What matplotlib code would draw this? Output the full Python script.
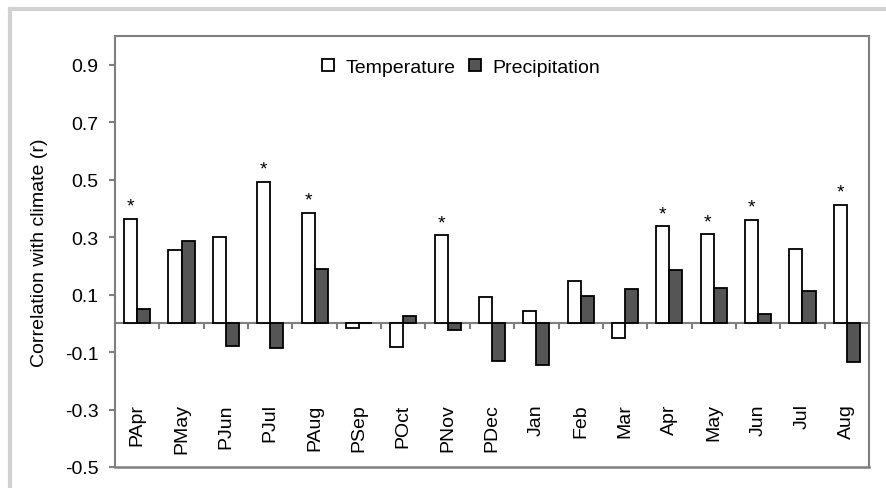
import numpy as np
import matplotlib
matplotlib.use("Agg")
import matplotlib.pyplot as plt
from matplotlib.lines import Line2D

plt.rcParams['font.family'] = ['Liberation Sans', 'DejaVu Sans']

# data
months = ["PApr", "PMay", "PJun", "PJul", "PAug", "PSep", "POct", "PNov", "PDec",
          "Jan", "Feb", "Mar", "Apr", "May", "Jun", "Jul", "Aug"]
temperature = [0.364, 0.254, 0.300, 0.492, 0.384, -0.016, -0.083, 0.306, 0.090,
               0.042, 0.149, -0.051, 0.338, 0.310, 0.360, 0.260, 0.413]
precipitation = [0.051, 0.287, -0.080, -0.085, 0.188, 0.0, 0.026, -0.022, -0.132,
                 -0.146, 0.095, 0.118, 0.185, 0.123, 0.031, 0.111, -0.134]
significant = ["PApr", "PJul", "PAug", "PNov", "Apr", "May", "Jun", "Aug"]
yticks = [-0.5, -0.3, -0.1, 0.1, 0.3, 0.5, 0.7, 0.9]

FS = 14
SPINE = "#7f7f7f"

fig = plt.figure(figsize=(8.86, 4.89), dpi=100)
ax = fig.add_axes([115/886, 1 - 468/489, 754/886, 431/489])

# light grey frame around the figure (top and left edges)
fig.add_artist(Line2D([10/886, 1.0], [1 - 10/489, 1 - 10/489], color="#d2d2d2", lw=3))
fig.add_artist(Line2D([10/886, 10/886], [0.0, 1 - 10/489], color="#d2d2d2", lw=3))

x = np.arange(len(months))
w = 0.295
tb = ax.bar(x - w/2, temperature, w, color="white", edgecolor="black", lw=1.3,
            label="Temperature", zorder=3)
pb = ax.bar(x + w/2, precipitation, w, color="#555555", edgecolor="black", lw=1.3,
            label="Precipitation", zorder=3)

# significance stars
for i, m in enumerate(months):
    if m in significant:
        ax.annotate("*", (x[i] - w/2, temperature[i]), xytext=(0, 3),
                    textcoords="offset points", ha="center", va="bottom", fontsize=FS)

ax.set_xlim(-0.5, len(months) - 0.5)
ax.set_ylim(-0.5, 1.0)
ax.set_yticks(yticks)
ax.set_yticklabels([f"{v:.1f}" for v in yticks])

# x axis sits on zero, ticks between categories
ax.spines["bottom"].set_position(("data", 0))
ax.set_xticks(np.arange(0.5, len(months) - 1, 1))
ax.set_xticklabels([])
for s in ax.spines.values():
    s.set_color(SPINE)
    s.set_linewidth(1.5)
ax.axhline(-0.5, color=SPINE, lw=1.8, clip_on=False, zorder=5)
ax.tick_params(axis="x", direction="out", length=4, width=1.5, color=SPINE)
ax.tick_params(axis="y", direction="out", length=4, width=1.5, color=SPINE,
               labelsize=FS, pad=8)

for i, m in enumerate(months):
    ax.text(x[i], -0.279, m, rotation=90, ha="center", va="top", fontsize=FS)

ax.set_ylabel("Correlation with climate (r)", fontsize=FS, labelpad=12)

ax.legend(handles=[tb, pb], loc="center left", bbox_to_anchor=(0.2745, 0.928),
          ncol=2, frameon=False, fontsize=FS, borderpad=0, borderaxespad=0,
          handlelength=0.6, handleheight=0.6, handletextpad=0.6, columnspacing=0.7)

fig.savefig("out.png", dpi=100, facecolor="white")
